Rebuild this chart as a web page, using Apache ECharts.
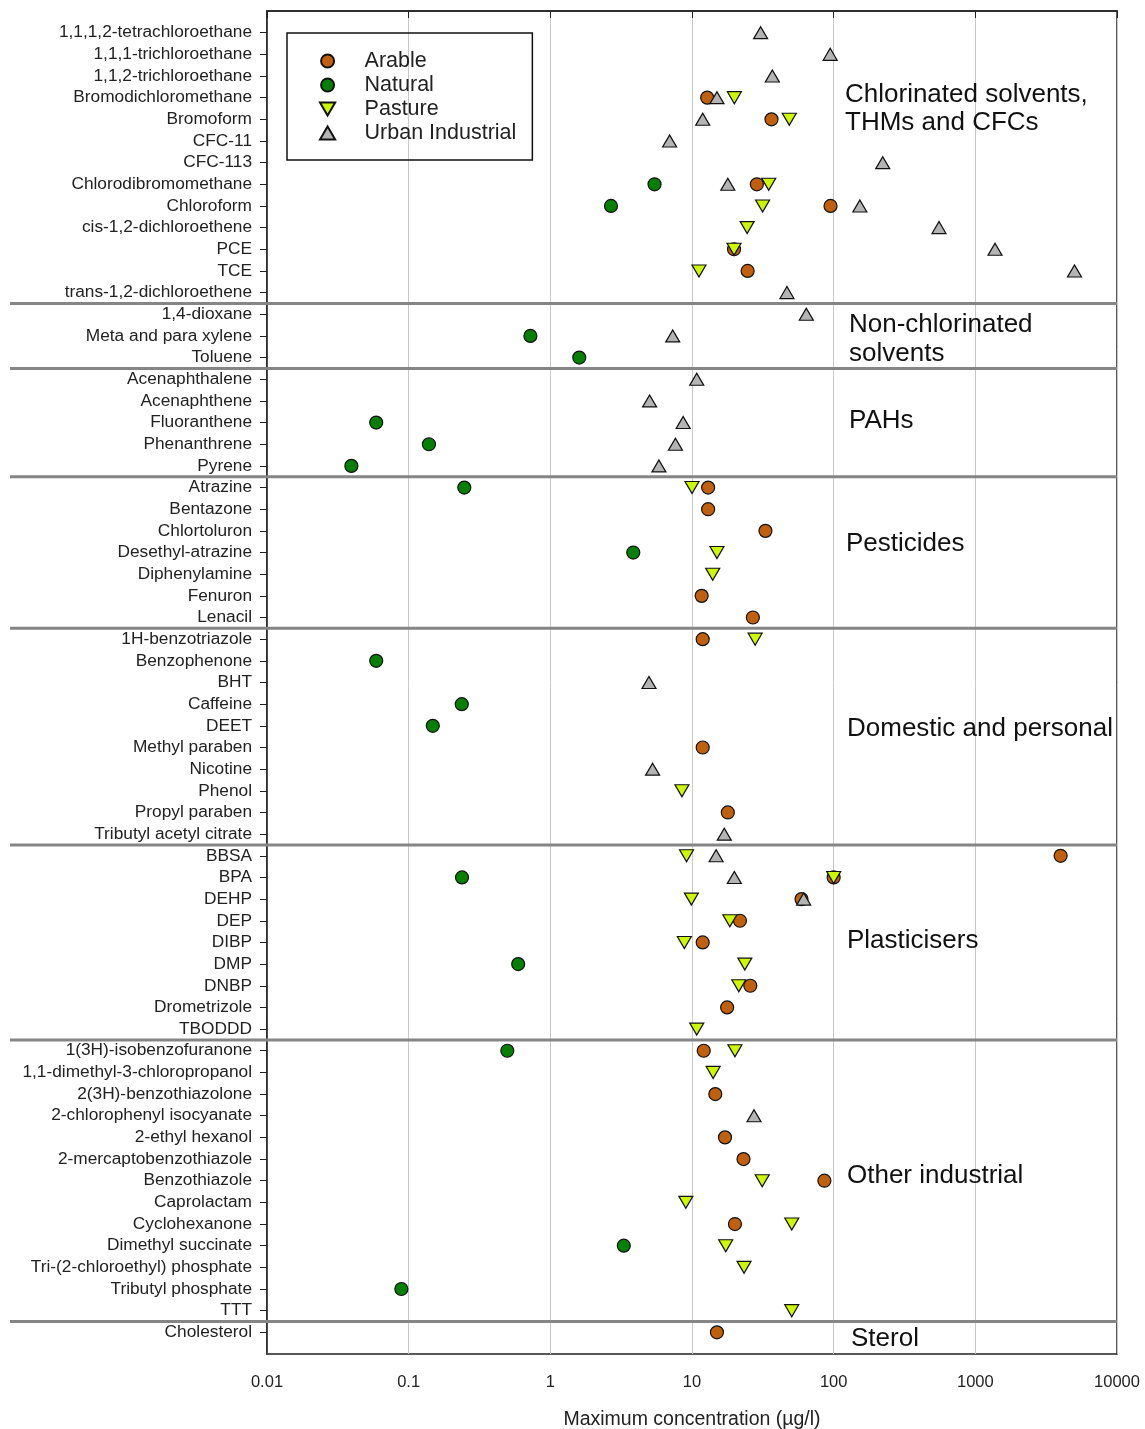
<!DOCTYPE html>
<html><head><meta charset="utf-8">
<script src="https://cdn.jsdelivr.net/npm/echarts@6/dist/echarts.min.js"></script>
<style>html,body{margin:0;padding:0;background:#fff}#c{width:1145px;height:1429px}</style>
</head><body><div id="c"></div>
<script>
const categories = [
  "1,1,1,2-tetrachloroethane","1,1,1-trichloroethane","1,1,2-trichloroethane","Bromodichloromethane","Bromoform",
  "CFC-11","CFC-113","Chlorodibromomethane","Chloroform","cis-1,2-dichloroethene","PCE","TCE","trans-1,2-dichloroethene",
  "1,4-dioxane","Meta and para xylene","Toluene",
  "Acenaphthalene","Acenaphthene","Fluoranthene","Phenanthrene","Pyrene",
  "Atrazine","Bentazone","Chlortoluron","Desethyl-atrazine","Diphenylamine","Fenuron","Lenacil",
  "1H-benzotriazole","Benzophenone","BHT","Caffeine","DEET","Methyl paraben","Nicotine","Phenol","Propyl paraben","Tributyl acetyl citrate",
  "BBSA","BPA","DEHP","DEP","DIBP","DMP","DNBP","Drometrizole","TBODDD",
  "1(3H)-isobenzofuranone","1,1-dimethyl-3-chloropropanol","2(3H)-benzothiazolone","2-chlorophenyl isocyanate","2-ethyl hexanol",
  "2-mercaptobenzothiazole","Benzothiazole","Caprolactam","Cyclohexanone","Dimethyl succinate","Tri-(2-chloroethyl) phosphate",
  "Tributyl phosphate","TTT",
  "Cholesterol"
];
const groupSizes = [13, 3, 5, 7, 10, 9, 13, 1];
const groupLabels = [
  ["Chlorinated solvents,", "THMs and CFCs"], ["Non-chlorinated", "solvents"], ["PAHs"], ["Pesticides"],
  ["Domestic and personal"], ["Plasticisers"], ["Other industrial"], ["Sterol"]
];
const xTickValues = [0.01, 0.1, 1, 10, 100, 1000, 10000];
const xTickLabels = ["0.01", "0.1", "1", "10", "100", "1000", "10000"];
const seriesNames = ["Arable", "Natural", "Pasture", "Urban Industrial"];

const arable = [
  ["Bromodichloromethane",12.8],["Bromoform",36.4],["Chlorodibromomethane",28.7],["Chloroform",95],["PCE",19.8],["TCE",24.7],
  ["Atrazine",13.0],["Bentazone",13.0],["Chlortoluron",33.0],["Fenuron",11.7],["Lenacil",26.9],
  ["1H-benzotriazole",11.9],["Methyl paraben",11.9],["Propyl paraben",17.9],
  ["BBSA",4000],["BPA",100],["DEHP",59.3],["DEP",21.8],["DIBP",11.9],["DNBP",25.8],["Drometrizole",17.7],
  ["1(3H)-isobenzofuranone",12.1],["2(3H)-benzothiazolone",14.6],["2-ethyl hexanol",17.1],["2-mercaptobenzothiazole",23.1],
  ["Benzothiazole",86],["Cyclohexanone",20.1],["Cholesterol",15.0]
];
const natural = [
  ["Chlorodibromomethane",5.44],["Chloroform",2.68],["Meta and para xylene",0.723],["Toluene",1.60],
  ["Fluoranthene",0.059],["Phenanthrene",0.139],["Pyrene",0.0394],["Atrazine",0.247],["Desethyl-atrazine",3.85],
  ["Benzophenone",0.059],["Caffeine",0.237],["DEET",0.148],["BPA",0.238],["DMP",0.593],
  ["1(3H)-isobenzofuranone",0.497],["Dimethyl succinate",3.30],["Tributyl phosphate",0.0888]
];
const pasture = [
  ["Bromodichloromethane",19.9],["Bromoform",48.6],["Chlorodibromomethane",34.8],["Chloroform",31.5],
  ["cis-1,2-dichloroethene",24.5],["PCE",19.8],["TCE",11.2],["Atrazine",10.0],["Desethyl-atrazine",15.0],["Diphenylamine",14.0],
  ["1H-benzotriazole",27.9],["Phenol",8.49],["BBSA",9.15],["BPA",100],["DEHP",9.9],["DEP",18.5],["DIBP",8.83],["DMP",23.6],
  ["DNBP",21.4],["TBODDD",10.8],["1(3H)-isobenzofuranone",20.1],["1,1-dimethyl-3-chloropropanol",14.1],["Benzothiazole",31.3],
  ["Caprolactam",9.05],["Cyclohexanone",50.6],["Dimethyl succinate",17.3],["Tri-(2-chloroethyl) phosphate",23.3],["TTT",50.6]
];
const urbanIndustrial = [
  ["1,1,1,2-tetrachloroethane",30.5],["1,1,1-trichloroethane",94.5],["1,1,2-trichloroethane",36.9],["Bromodichloromethane",15.0],
  ["Bromoform",11.9],["CFC-11",6.95],["CFC-113",222],["Chlorodibromomethane",17.9],["Chloroform",153],
  ["cis-1,2-dichloroethene",554],["PCE",1377],["TCE",5012],["trans-1,2-dichloroethene",46.8],
  ["1,4-dioxane",64.1],["Meta and para xylene",7.31],["Acenaphthalene",10.8],["Acenaphthene",5.02],["Fluoranthene",8.66],
  ["Phenanthrene",7.64],["Pyrene",5.84],["BHT",4.97],["Nicotine",5.27],["Tributyl acetyl citrate",16.9],
  ["BBSA",14.8],["BPA",19.9],["DEHP",61.4],["2-chlorophenyl isocyanate",27.4]
];

const FONT = "'Liberation Sans', Arial, sans-serif";
const toPts = arr => arr.map(([n, v]) => [v, categories.indexOf(n) + 1]);
const rowValues = categories.map((_, i) => i + 1);

const symCircle = 'circle';
const symDown = 'path://M0,0L14,0L7,12Z';
const symUp = 'path://M7,0L14,12L0,12Z';

function mk(name, data, symbol, size, color) {
  return {
    name, type: 'scatter', data: toPts(data), symbol, symbolSize: size,
    itemStyle: { color, borderColor: '#111', borderWidth: 1.2, opacity: 1 },
    emphasis: { disabled: true }, silent: true
  };
}

const chart = echarts.init(document.getElementById('c'), null, { renderer: 'canvas' });
const option = {
  animation: false,
  backgroundColor: '#fff',
  textStyle: { fontFamily: FONT },
  grid: { left: 267, right: 28, top: 11, bottom: 75, containLabel: false, outerBoundsMode: 'none',
          show: true, borderColor: '#222', borderWidth: 1.5, backgroundColor: 'transparent' },
  legend: {
    data: seriesNames, orient: 'vertical', left: 287, top: 33,
    borderColor: '#111', borderWidth: 1.5, borderRadius: 0,
    padding: [17, 16, 16, 32], itemGap: 2, itemWidth: 64, itemHeight: 13,
    textStyle: { fontFamily: FONT, fontSize: 21.5, color: '#222', lineHeight: 22 },
    selectedMode: false
  },
  xAxis: {
    type: 'log', logBase: 10, min: 0.01, max: 10000,
    name: 'Maximum concentration (µg/l)', nameLocation: 'middle', nameGap: 56,
    nameTextStyle: { fontFamily: FONT, fontSize: 19.5, color: '#222' },
    axisLine: { show: true, lineStyle: { color: '#222', width: 1.5 } },
    axisTick: { show: true, inside: false, length: 7, lineStyle: { color: '#222' } },
    minorTick: { show: false },
    axisLabel: {
      fontFamily: FONT, fontSize: 16.5, color: '#222', margin: 20,
      formatter: v => { const i = Math.round(Math.log10(v)) + 2; return xTickLabels[i] !== undefined ? xTickLabels[i] : ''; }
    },
    splitLine: { show: true, lineStyle: { color: '#c8c8c8', width: 1 } }
  },
  yAxis: {
    type: 'value', inverse: true, min: 0, max: 62, interval: 1,
    axisLine: { show: true, lineStyle: { color: '#222', width: 1.5 } },
    axisTick: { show: true, inside: false, length: 7, lineStyle: { color: '#222' }, customValues: rowValues },
    axisLabel: {
      fontFamily: FONT, fontSize: 17.3, color: '#222', margin: 15, customValues: rowValues,
      formatter: v => categories[Math.round(v) - 1] || ''
    },
    splitLine: { show: false }
  },
  series: [
    mk('Arable', arable, symCircle, 13, '#c0600c'),
    mk('Natural', natural, symCircle, 13, '#058005'),
    mk('Pasture', pasture, symDown, [14, 12], '#ccf800'),
    mk('Urban Industrial', urbanIndustrial, symUp, [14, 12], '#b4b4b4')
  ]
};
chart.setOption(option);

// separators between groups and group labels
const graphics = [];
let cum = 0;
const rightPx = chart.convertToPixel({ xAxisIndex: 0 }, 10000);
for (let g = 0; g < groupSizes.length - 1; g++) {
  cum += groupSizes[g];
  const y = chart.convertToPixel({ yAxisIndex: 0 }, cum + 0.5);
  graphics.push({ type: 'line', shape: { x1: 10, y1: y, x2: rightPx, y2: y }, style: { stroke: '#858585', lineWidth: 3 }, z: 50, silent: true });
}
const labelPos = [[845, 95, 123], [849, 325, 354], [849, 421], [846, 544], [847, 729], [847, 941], [847, 1176], [851, 1339]];
groupLabels.forEach((lines, i) => {
  lines.forEach((t, j) => {
    graphics.push({ type: 'text', x: labelPos[i][0], y: labelPos[i][1 + j], z: 60, silent: true,
      style: { text: t, fontFamily: FONT, fontSize: 26, fill: '#111', verticalAlign: 'middle', align: 'left' } });
  });
});
chart.setOption({ graphic: graphics });
</script>
</body></html>
